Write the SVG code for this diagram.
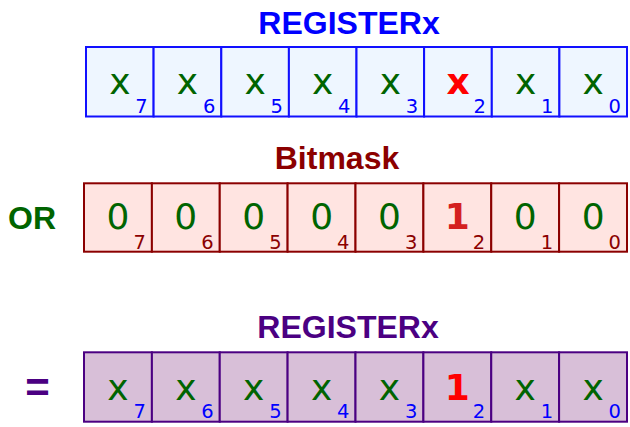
<svg xmlns="http://www.w3.org/2000/svg" width="630" height="427" viewBox="0 0 630 427">
<style>
text{font-family:"Liberation Sans",Arial,sans-serif}
.title{font-size:32px;font-weight:bold;text-anchor:middle}
.main{font-family:"DejaVu Sans",sans-serif;font-size:36px;text-anchor:middle;fill:#006400}
.one{font-weight:bold}
.sub{font-family:"DejaVu Sans",sans-serif;font-size:19.5px;text-anchor:end}
.r1 rect{fill:#eef6ff;stroke:#1010ff;stroke-width:2}
.r2 rect{fill:#ffe4e1;stroke:#8b0000;stroke-width:2}
.r3 rect{fill:#d8bfd8;stroke:#4b0082;stroke-width:2}
.r1 .sub,.r3 .sub{fill:#0000ff}
.r2 .sub{fill:#8b0000}
</style>
<rect width="630" height="427" fill="#ffffff"/>
<text id="title1" class="title" x="349" y="34" fill="#0000ff">REGISTERx</text>
<text id="title2" class="title" x="337" y="169.3" fill="#8b0000">Bitmask</text>
<text id="title3" class="title" x="348" y="338.3" fill="#4b0082">REGISTERx</text>
<text id="op-or" x="8" y="229.3" style="font-size:32px;font-weight:bold" fill="#006400">OR</text>
<text id="op-eq" x="37.5" y="402" style="font-size:42px;font-weight:bold;text-anchor:middle" fill="#4b0082">=</text>
<g id="row1" class="r1">
<g id="r1b7"><rect x="86" y="47" width="67.6" height="69.5"/><text class="main" x="119.8" y="94">x</text><text class="sub" x="147.6" y="113.3">7</text></g>
<g id="r1b6"><rect x="153.6" y="47" width="67.7" height="69.5"/><text class="main" x="187.4" y="94">x</text><text class="sub" x="215.3" y="113.3">6</text></g>
<g id="r1b5"><rect x="221.3" y="47" width="67.6" height="69.5"/><text class="main" x="255.1" y="94">x</text><text class="sub" x="282.9" y="113.3">5</text></g>
<g id="r1b4"><rect x="288.9" y="47" width="67.6" height="69.5"/><text class="main" x="322.7" y="94">x</text><text class="sub" x="350.5" y="113.3">4</text></g>
<g id="r1b3"><rect x="356.5" y="47" width="67.6" height="69.5"/><text class="main" x="390.3" y="94">x</text><text class="sub" x="418.1" y="113.3">3</text></g>
<g id="r1b2"><rect x="424.1" y="47" width="67.7" height="69.5"/><text class="main one" x="458" y="94" style="fill:#ff0000">x</text><text class="sub" x="485.8" y="113.3">2</text></g>
<g id="r1b1"><rect x="491.8" y="47" width="67.6" height="69.5"/><text class="main" x="525.6" y="94">x</text><text class="sub" x="553.4" y="113.3">1</text></g>
<g id="r1b0"><rect x="559.4" y="47" width="67.6" height="69.5"/><text class="main" x="593.2" y="94">x</text><text class="sub" x="621" y="113.3">0</text></g>
</g>
<g id="row2" class="r2">
<g id="r2b7"><rect x="84" y="183.3" width="67.9" height="68.4"/><text class="main" x="117.9" y="229.3">0</text><text class="sub" x="145.9" y="249">7</text></g>
<g id="r2b6"><rect x="151.9" y="183.3" width="67.85" height="68.4"/><text class="main" x="185.8" y="229.3">0</text><text class="sub" x="213.75" y="249">6</text></g>
<g id="r2b5"><rect x="219.75" y="183.3" width="67.85" height="68.4"/><text class="main" x="253.7" y="229.3">0</text><text class="sub" x="281.6" y="249">5</text></g>
<g id="r2b4"><rect x="287.6" y="183.3" width="67.9" height="68.4"/><text class="main" x="321.6" y="229.3">0</text><text class="sub" x="349.5" y="249">4</text></g>
<g id="r2b3"><rect x="355.5" y="183.3" width="67.9" height="68.4"/><text class="main" x="389.4" y="229.3">0</text><text class="sub" x="417.4" y="249">3</text></g>
<g id="r2b2"><rect x="423.4" y="183.3" width="67.85" height="68.4"/><text class="main one" x="457.3" y="229.3" style="fill:#d42020">1</text><text class="sub" x="485.25" y="249">2</text></g>
<g id="r2b1"><rect x="491.25" y="183.3" width="67.85" height="68.4"/><text class="main" x="525.2" y="229.3">0</text><text class="sub" x="553.1" y="249">1</text></g>
<g id="r2b0"><rect x="559.1" y="183.3" width="67.9" height="68.4"/><text class="main" x="593.1" y="229.3">0</text><text class="sub" x="621" y="249">0</text></g>
</g>
<g id="row3" class="r3">
<g id="r3b7"><rect x="84" y="352.3" width="67.9" height="69.4"/><text class="main" x="117.9" y="400">x</text><text class="sub" x="145.9" y="418.3">7</text></g>
<g id="r3b6"><rect x="151.9" y="352.3" width="67.85" height="69.4"/><text class="main" x="185.8" y="400">x</text><text class="sub" x="213.75" y="418.3">6</text></g>
<g id="r3b5"><rect x="219.75" y="352.3" width="67.85" height="69.4"/><text class="main" x="253.7" y="400">x</text><text class="sub" x="281.6" y="418.3">5</text></g>
<g id="r3b4"><rect x="287.6" y="352.3" width="67.9" height="69.4"/><text class="main" x="321.6" y="400">x</text><text class="sub" x="349.5" y="418.3">4</text></g>
<g id="r3b3"><rect x="355.5" y="352.3" width="67.9" height="69.4"/><text class="main" x="389.4" y="400">x</text><text class="sub" x="417.4" y="418.3">3</text></g>
<g id="r3b2"><rect x="423.4" y="352.3" width="67.85" height="69.4"/><text class="main one" x="457.3" y="400" style="fill:#ff0000">1</text><text class="sub" x="485.25" y="418.3">2</text></g>
<g id="r3b1"><rect x="491.25" y="352.3" width="67.85" height="69.4"/><text class="main" x="525.2" y="400">x</text><text class="sub" x="553.1" y="418.3">1</text></g>
<g id="r3b0"><rect x="559.1" y="352.3" width="67.9" height="69.4"/><text class="main" x="593.1" y="400">x</text><text class="sub" x="621" y="418.3">0</text></g>
</g>
<g id="connectors"/>
</svg>
